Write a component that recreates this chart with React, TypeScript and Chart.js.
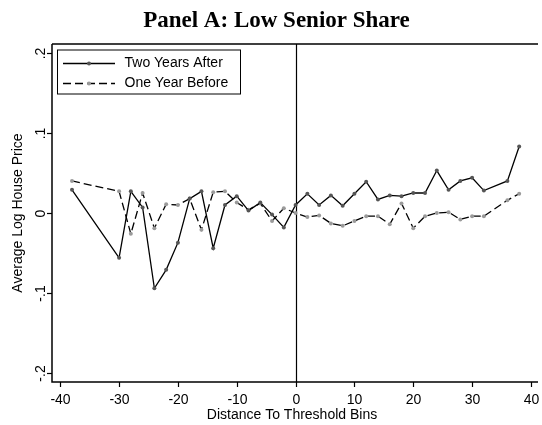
import React, { useEffect, useRef } from "react";
import { Chart, registerables } from "chart.js";

Chart.register(...registerables);

const titleText = "Panel A: Low Senior Share";
const xTitle = "Distance To Threshold Bins";
const yTitle = "Average Log House Price";
const seriesNames = ["Two Years After", "One Year Before"];

const xBins = [
  -38, -30, -28, -26, -24, -22, -20, -18, -16, -14, -12, -10, -8, -6, -4, -2, 0,
  2, 4, 6, 8, 10, 12, 14, 16, 18, 20, 22, 24, 26, 28, 30, 32, 36, 38,
];

const twoYearsAfter = [
  0.029, -0.056, 0.027, 0.007, -0.094, -0.071, -0.037, 0.018, 0.027, -0.044,
  0.010, 0.021, 0.003, 0.013, -0.002, -0.018, 0.010,
  0.024, 0.010, 0.022, 0.009, 0.024, 0.039, 0.017, 0.022, 0.021, 0.025, 0.025,
  0.053, 0.029, 0.040, 0.044, 0.028, 0.040, 0.083,
];

const oneYearBefore = [
  0.040, 0.027, -0.026, 0.025, -0.019, 0.011, 0.010, 0.018, -0.021, 0.026,
  0.027, 0.013, 0.004, 0.012, -0.010, 0.006, 0.000,
  -0.005, -0.003, -0.013, -0.016, -0.010, -0.004, -0.004, -0.014, 0.012,
  -0.019, -0.004, 0.000, 0.001, -0.008, -0.004, -0.004, 0.016, 0.024,
];

const xTickValues = [-40, -30, -20, -10, 0, 10, 20, 30, 40];
const xTickLabels = ["-40", "-30", "-20", "-10", "0", "10", "20", "30", "40"];
const yTickValues = [-0.2, -0.1, 0, 0.1, 0.2];
const yTickLabels = ["-.2", "-.1", "0", ".1", ".2"];

const SANS = "'Liberation Sans', Arial, Helvetica, sans-serif";
const SERIF = "'Liberation Serif', 'Times New Roman', serif";

const framePlugin = {
  id: "stataFrame",
  beforeDatasetsDraw(chart: any) {
    const { ctx, chartArea: a, scales } = chart;
    const x0 = Math.round(scales.x.getPixelForValue(0)) + 0.5;
    ctx.save();
    ctx.strokeStyle = "#000";
    ctx.lineWidth = 1.2;
    ctx.beginPath();
    ctx.moveTo(x0, a.top);
    ctx.lineTo(x0, a.bottom);
    ctx.stroke();
    ctx.restore();
  },
  afterDatasetsDraw(chart: any) {
    const { ctx, chartArea: a, scales } = chart;
    const xs = scales.x;
    const ys = scales.y;
    const ds = chart.data.datasets;
    ctx.save();
    ctx.strokeStyle = "#000";
    ctx.fillStyle = "#000";
    ctx.lineWidth = 1.5;
    // frame lines: top, left, bottom
    ctx.beginPath();
    ctx.moveTo(a.left, a.top);
    ctx.lineTo(a.right, a.top);
    ctx.moveTo(a.left, a.top);
    ctx.lineTo(a.left, a.bottom);
    ctx.lineTo(a.right, a.bottom);
    ctx.stroke();

    // x ticks
    ctx.lineWidth = 1.2;
    ctx.font = `14px ${SANS}`;
    ctx.textAlign = "center";
    ctx.textBaseline = "alphabetic";
    xTickValues.forEach((v, i) => {
      const px = Math.round(xs.getPixelForValue(v)) + 0.5;
      ctx.beginPath();
      ctx.moveTo(px, a.bottom);
      ctx.lineTo(px, a.bottom + 5);
      ctx.stroke();
      ctx.fillText(xTickLabels[i], px, 403.5);
    });
    ctx.fillText(xTitle, (a.left + a.right) / 2 - 3, 418.5);

    // y ticks (rotated labels)
    yTickValues.forEach((v, i) => {
      const py = Math.round(ys.getPixelForValue(v)) + 0.5;
      ctx.beginPath();
      ctx.moveTo(a.left, py);
      ctx.lineTo(a.left - 5, py);
      ctx.stroke();
      ctx.save();
      ctx.translate(44.5, py);
      ctx.rotate(-Math.PI / 2);
      ctx.fillText(yTickLabels[i], 0, 0);
      ctx.restore();
    });
    ctx.save();
    ctx.translate(22, (a.top + a.bottom) / 2);
    ctx.rotate(-Math.PI / 2);
    ctx.fillText(yTitle, 0, 0);
    ctx.restore();

    // legend
    const bx = 57, by = 49.5, bw = 183, bh = 44;
    ctx.fillStyle = "#fff";
    ctx.fillRect(bx, by, bw, bh);
    ctx.lineWidth = 1;
    ctx.strokeStyle = "#000";
    ctx.strokeRect(bx + 0.5, by + 0.5, bw, bh);
    const rows = [63.5, 83.5];
    rows.forEach((ry, i) => {
      const d = ds[i];
      ctx.save();
      ctx.strokeStyle = d.borderColor;
      ctx.lineWidth = d.borderWidth;
      ctx.setLineDash(d.borderDash || []);
      ctx.beginPath();
      ctx.moveTo(63, ry);
      ctx.lineTo(115, ry);
      ctx.stroke();
      ctx.setLineDash([]);
      ctx.fillStyle = d.pointBackgroundColor;
      ctx.beginPath();
      ctx.arc(89, ry, 2, 0, Math.PI * 2);
      ctx.fill();
      ctx.restore();
      ctx.fillStyle = "#000";
      ctx.font = `14px ${SANS}`;
      ctx.textAlign = "left";
      ctx.textBaseline = "middle";
      ctx.fillText(seriesNames[i], 124.5, ry);
    });

    // title
    ctx.fillStyle = "#000";
    ctx.font = `bold 23px ${SERIF}`;
    ctx.textAlign = "center";
    ctx.textBaseline = "alphabetic";
    ctx.fillText(titleText, 276.5, 26.5);
    ctx.restore();
  },
};

export default function App() {
  const ref = useRef<HTMLCanvasElement | null>(null);

  useEffect(() => {
    if (!ref.current) return;
    const chart = new Chart(ref.current, {
      type: "line",
      data: {
        datasets: [
          {
            label: seriesNames[0],
            data: xBins.map((x, i) => ({ x, y: twoYearsAfter[i] })),
            borderColor: "#000",
            borderWidth: 1.3,
            pointRadius: 2,
            pointBorderWidth: 0,
            pointBackgroundColor: "#555",
            pointBorderColor: "#555",
            tension: 0,
            fill: false,
          },
          {
            label: seriesNames[1],
            data: xBins.map((x, i) => ({ x, y: oneYearBefore[i] })),
            borderColor: "#000",
            borderWidth: 1.3,
            borderDash: [8, 4],
            pointRadius: 2,
            pointBorderWidth: 0,
            pointBackgroundColor: "#9a9a9a",
            pointBorderColor: "#9a9a9a",
            tension: 0,
            fill: false,
          },
        ],
      },
      options: {
        animation: false,
        responsive: false,
        maintainAspectRatio: false,
        layout: { padding: { left: 52, top: 44, right: 0, bottom: 43 } },
        scales: {
          x: { type: "linear", min: -41.4, max: 41.2, display: false },
          y: { type: "linear", min: -0.211, max: 0.211, display: false },
        },
        plugins: {
          legend: { display: false },
          tooltip: { enabled: false },
          title: { display: false },
        },
      },
      plugins: [framePlugin],
    });
    return () => chart.destroy();
  }, []);

  return (
    <div style={{ position: "fixed", left: 0, top: 0, width: 542, height: 425, background: "#fff" }}>
      <canvas ref={ref} width={542} height={425} style={{ display: "block" }} />
    </div>
  );
}
